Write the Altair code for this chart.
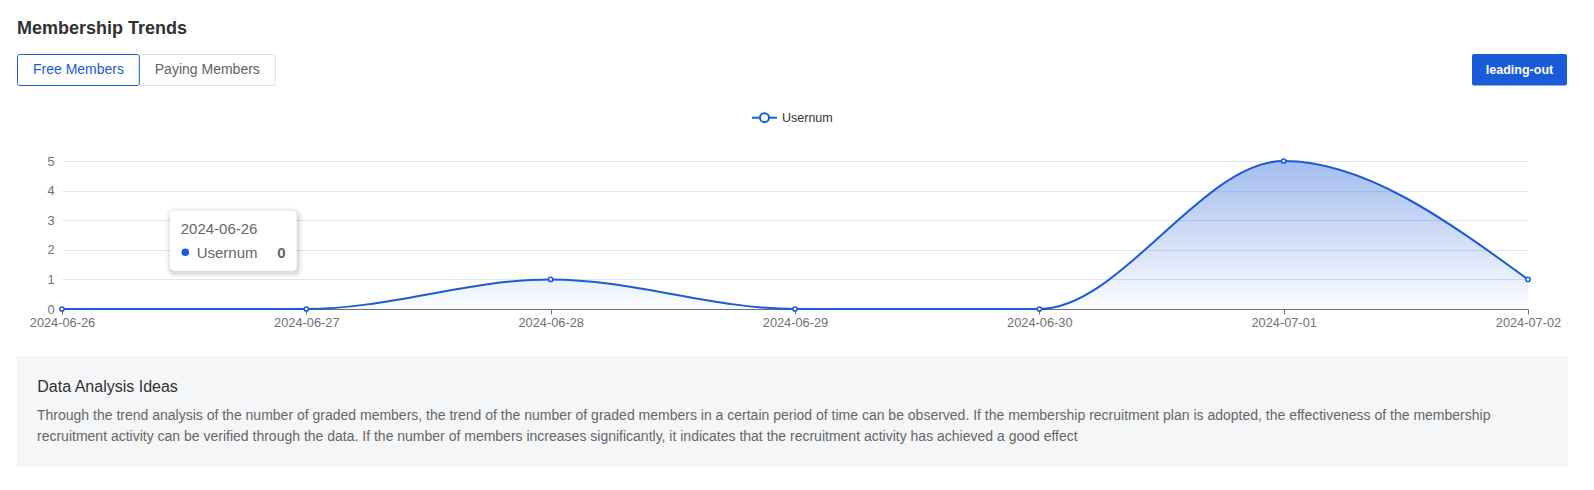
import altair as alt
import pandas as pd

# ---------------- data ----------------
dates = ["2024-06-26", "2024-06-27", "2024-06-28", "2024-06-29",
         "2024-06-30", "2024-07-01", "2024-07-02"]
usernum = [0, 0, 1, 0, 0, 5, 1]
series_name = "Usernum"
y_ticks = [0, 1, 2, 3, 4, 5]

page_title = "Membership Trends"
tab_labels = ["Free Members", "Paying Members"]
export_label = "leading-out"
analysis_title = "Data Analysis Ideas"
analysis_lines = [
    "Through the trend analysis of the number of graded members, the trend of the number of graded members in a certain period of time can be observed. If the membership recruitment plan is adopted, the effectiveness of the membership",
    "recruitment activity can be verified through the data. If the number of members increases significantly, it indicates that the recruitment activity has achieved a good effect",
]
tooltip_index = 0

# ---------------- style ----------------
BLUE = "#1a5bd7"
FONT = "Liberation Sans"
AXIS_GRAY = "#6e7079"
GRID = "#e0e6f1"

df = pd.DataFrame({"date": dates, "value": usernum})

x_enc = alt.X(
    "date:O",
    scale=alt.Scale(type="point", padding=0, domain=dates),
    axis=alt.Axis(
        title=None, labelAngle=0, grid=False,
        domainColor=AXIS_GRAY, tickColor=AXIS_GRAY, tickSize=5,
        labelColor=AXIS_GRAY, labelFont=FONT, labelFontSize=12.8,
        labelPadding=2, labelOverlap=False,
    ),
)
y_enc = alt.Y(
    "value:Q",
    scale=alt.Scale(domain=[0, 5], nice=False, zero=True),
    axis=alt.Axis(
        title=None, values=y_ticks, tickCount=len(y_ticks), labelOverlap=False,
        domain=False, ticks=False, tickSize=0,
        gridColor=GRID, labelColor=AXIS_GRAY, labelFont=FONT,
        labelFontSize=12.8, labelPadding=8,
    ),
)

base = alt.Chart(df)

area = base.mark_area(
    interpolate="monotone",
    fill=alt.Gradient(
        gradient="linear",
        stops=[
            alt.GradientStop(color="rgba(27,91,215,0.40)", offset=0),
            alt.GradientStop(color="rgba(27,91,215,0.02)", offset=1),
        ],
        x1=0, x2=0, y1=0, y2=1,
    ),
).encode(x=x_enc, y=y_enc)

line = base.mark_line(interpolate="monotone", color=BLUE, strokeWidth=2).encode(
    x="date:O", y="value:Q"
)

pts = base.mark_point(
    shape="circle", filled=True, fill="white", stroke=BLUE,
    strokeWidth=1.5, size=18, opacity=1,
).encode(x="date:O", y="value:Q")


# ---------------- UI helpers ----------------
def one(**kw):
    return alt.Chart(pd.DataFrame({k: [v] for k, v in kw.items()}))


def text(t, x, y, size, color, weight="normal", align="left", baseline="alphabetic"):
    return one(t=t).mark_text(
        align=align, baseline=baseline, font=FONT, fontSize=size,
        fontWeight=weight, color=color,
    ).encode(x=alt.value(x), y=alt.value(y), text="t:N")


def box(x, x2, y, y2, fill, stroke=None, radius=0, opacity=1, sw=1):
    kw = dict(fill=fill, cornerRadius=radius, opacity=opacity)
    if stroke:
        kw.update(stroke=stroke, strokeWidth=sw)
    return one(k=0).mark_rect(**kw).encode(
        x=alt.value(x), x2=alt.value(x2), y=alt.value(y), y2=alt.value(y2)
    )


layers = [area, line, pts]

# page title
layers.append(text(page_title, -45, -126.7, 18, "#303133", weight="bold"))

# tabs
layers.append(box(77.3, 213.3, -106.5, -75.5, "white", stroke="#dcdfe6", radius=2))
layers.append(box(-44.5, 77.3, -106.5, -75.5, "white", stroke=BLUE, radius=2))
layers.append(text(tab_labels[0], 16.5, -91, 14, BLUE, align="center", baseline="middle"))
layers.append(text(tab_labels[1], 145.3, -91, 14, "#606266", align="center", baseline="middle"))

# export button
layers.append(box(1410, 1505, -107, -75.5, BLUE, radius=2))
layers.append(text(export_label, 1457.5, -91, 12.5, "white", weight="bold",
                   align="center", baseline="middle"))

# legend
layers.append(one(s=series_name).mark_rule(color=BLUE, strokeWidth=2).encode(
    x=alt.value(690), x2=alt.value(715), y=alt.value(-43.3)))
layers.append(one(s=series_name).mark_point(
    shape="circle", filled=True, fill="white", stroke=BLUE, strokeWidth=2,
    size=80, opacity=1).encode(x=alt.value(702.5), y=alt.value(-43.3)))
layers.append(text(series_name, 720, -43.3, 12.5, "#333333", baseline="middle"))

# tooltip (shadow + box)
for i, op in enumerate([0.035, 0.03, 0.025, 0.02, 0.015, 0.01]):
    d = i + 1
    layers.append(box(108 - d + 1, 234.7 + d + 1, 49.7 - d + 2, 109.7 + d + 2,
                      "black", radius=4 + d, opacity=op))
layers.append(box(108, 234.7, 49.7, 109.7, "white", radius=4))
layers.append(text(dates[tooltip_index], 118.7, 73.3, 15, "#666666"))
layers.append(one(s=series_name).mark_circle(color=BLUE, size=58, opacity=1).encode(
    x=alt.value(123.3), y=alt.value(91.3)))
layers.append(text(series_name, 134.7, 96.5, 15, "#666666"))
layers.append(text(str(usernum[tooltip_index]), 223.5, 96.5, 15, "#666666",
                   weight="bold", align="right"))

# analysis panel
layers.append(box(-45, 1506, 195, 305.7, "#f5f6f8"))
layers.append(text(analysis_title, -24.7, 231.3, 16, "#303133"))
for i, ln in enumerate(analysis_lines):
    layers.append(text(ln, -25, 259 + 21 * i, 14, "#666666"))

chart = alt.layer(*layers).properties(
    width=1466,
    height=148,
    padding={"left": 54, "top": 153, "right": 58, "bottom": 173},
    autosize=alt.AutoSizeParams(type="none"),
    background="white",
).configure_view(stroke=None)

chart.save("out.html", embed_options={"renderer": "svg", "actions": False})
